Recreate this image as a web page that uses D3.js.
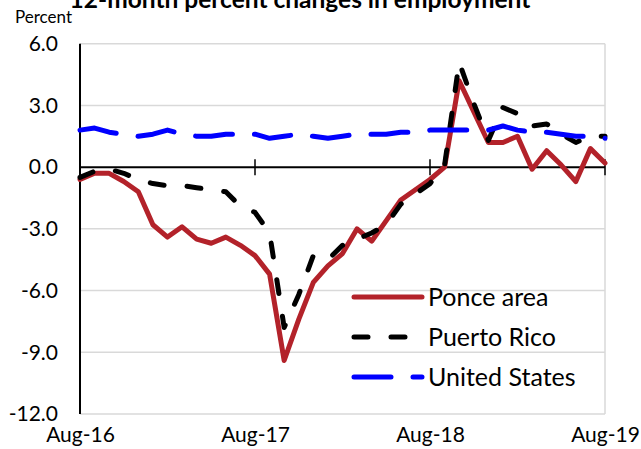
<!DOCTYPE html>
<html>
<head>
<meta charset="utf-8">
<script src="https://cdn.jsdelivr.net/npm/d3@7"></script>
<style>
  body { margin: 0; background: #fff; }
  svg { display: block; font-family: Lato, "Open Sans", sans-serif; }
</style>
</head>
<body>
<svg id="chart" width="641" height="449"></svg>
<script>
// monthly, Aug-16 .. Aug-19
var tickLabels = ["Aug-16", "Aug-17", "Aug-18", "Aug-19"];
var yTicks = [6, 3, 0, -3, -6, -9, -12];

var ponce = [-0.6, -0.3, -0.3, -0.7, -1.2, -2.8, -3.4, -2.9, -3.5, -3.7, -3.4, -3.8,
  -4.3, -5.2, -9.4, -7.4, -5.6, -4.8, -4.2, -3.0, -3.6, -2.6, -1.6, -1.1,
  -0.6, 0.0, 4.2, 2.7, 1.2, 1.2, 1.5, -0.1, 0.8, 0.1, -0.7, 0.9, 0.2];
var puertoRico = [-0.5, -0.2, -0.1, -0.3, -0.6, -0.8, -0.9, -0.9, -1.0, -1.1, -1.2, -1.9,
  -2.2, -3.2, -7.8, -6.2, -4.3, -4.5, -3.8, -3.5, -3.2, -2.8, -1.8, -1.3,
  -0.8, 0.1, 5.1, 3.1, 1.3, 2.9, 2.6, 2.0, 2.1, 1.6, 1.2, 1.5, 1.5];
var unitedStates = [1.8, 1.9, 1.7, 1.6, 1.5, 1.6, 1.8, 1.6, 1.5, 1.5, 1.6, 1.6,
  1.6, 1.4, 1.5, 1.6, 1.5, 1.4, 1.5, 1.6, 1.6, 1.6, 1.7, 1.7,
  1.8, 1.8, 1.8, 1.8, 1.8, 2.0, 1.8, 1.7, 1.7, 1.6, 1.5, 1.5, 1.4];

var series = [
  {name: "Ponce area", values: ponce, color: "#b3222a", dash: null},
  {name: "Puerto Rico", values: puertoRico, color: "#000000", dash: "14,23"},
  {name: "United States", values: unitedStates, color: "#0000ff", dash: "37,22"}
];

var svg = d3.select("#chart");
var plotL = 80, plotR = 605, plotT = 43.7, plotB = 414;

var x = d3.scaleLinear().domain([0, 36]).range([plotL, plotR]);
var y = d3.scaleLinear().domain([-12, 6]).range([plotB, plotT]);

// gridlines
svg.append("g").selectAll("line")
  .data(yTicks.filter(function(d) { return d !== 0; }))
  .enter().append("line")
  .attr("x1", plotL).attr("x2", plotR)
  .attr("y1", function(d) { return y(d); })
  .attr("y2", function(d) { return y(d); })
  .attr("stroke", "#d9d9d9")
  .attr("stroke-width", 1.5);

// right border
svg.append("line")
  .attr("x1", plotR).attr("x2", plotR)
  .attr("y1", plotT).attr("y2", plotB)
  .attr("stroke", "#d9d9d9").attr("stroke-width", 1.5);

// y axis labels
var yAxis = d3.axisLeft(y)
  .tickValues(yTicks)
  .tickSize(0)
  .tickPadding(22)
  .tickFormat(function(d) { return d.toFixed(1); });
var yg = svg.append("g")
  .attr("transform", "translate(" + plotL + ",0)")
  .call(yAxis);
yg.select(".domain").remove();
yg.selectAll("text")
  .attr("font-size", 21)
  .attr("font-family", "Lato, sans-serif")
  .attr("fill", "#000");

// x axis labels at the bottom
var xAxis = d3.axisBottom(x)
  .tickValues([0, 12, 24, 36])
  .tickSize(0)
  .tickPadding(13)
  .tickFormat(function(d, i) { return tickLabels[i]; });
var xg = svg.append("g")
  .attr("transform", "translate(0," + plotB + ")")
  .call(xAxis);
xg.select(".domain").remove();
xg.selectAll("text")
  .attr("font-size", 21)
  .attr("font-family", "Lato, sans-serif")
  .attr("fill", "#000");

// zero line with cross ticks
svg.append("line")
  .attr("x1", plotL).attr("x2", plotR)
  .attr("y1", y(0)).attr("y2", y(0))
  .attr("stroke", "#000").attr("stroke-width", 2);
svg.append("g").selectAll("line")
  .data([0, 12, 24, 36])
  .enter().append("line")
  .attr("x1", function(d) { return x(d); })
  .attr("x2", function(d) { return x(d); })
  .attr("y1", y(0) - 8).attr("y2", y(0) + 8)
  .attr("stroke", "#000").attr("stroke-width", 1.5);

// left axis line
svg.append("line")
  .attr("x1", plotL).attr("x2", plotL)
  .attr("y1", plotT).attr("y2", plotB)
  .attr("stroke", "#000").attr("stroke-width", 2);

// lines
var line = d3.line()
  .x(function(d, i) { return x(i); })
  .y(function(d) { return y(d); });

svg.append("g").selectAll("path")
  .data(series)
  .enter().append("path")
  .attr("d", function(s) { return line(s.values); })
  .attr("fill", "none")
  .attr("stroke", function(s) { return s.color; })
  .attr("stroke-width", 5)
  .attr("stroke-linejoin", "round")
  .attr("stroke-linecap", "round")
  .attr("stroke-dasharray", function(s) { return s.dash; });

// legend
var legend = svg.append("g").selectAll("g")
  .data(series)
  .enter().append("g")
  .attr("transform", function(d, i) { return "translate(352," + (297 + i * 40) + ")"; });
legend.append("line")
  .attr("x1", 2).attr("x2", 70)
  .attr("stroke", function(s) { return s.color; })
  .attr("stroke-width", 5)
  .attr("stroke-linecap", "round")
  .attr("stroke-dasharray", function(s) { return s.dash; });
legend.append("text")
  .attr("x", 76)
  .attr("dy", "0.35em")
  .attr("font-size", 25)
  .text(function(s) { return s.name; });

// title (partly cut at the top, as in the original) and unit label
svg.append("text")
  .attr("x", 300).attr("y", 8)
  .attr("text-anchor", "middle")
  .attr("font-size", 24.5)
  .attr("font-weight", "bold")
  .text("12-month percent changes in employment");
svg.append("text")
  .attr("x", 15).attr("y", 23)
  .attr("font-size", 17)
  .text("Percent");
</script>
</body>
</html>
